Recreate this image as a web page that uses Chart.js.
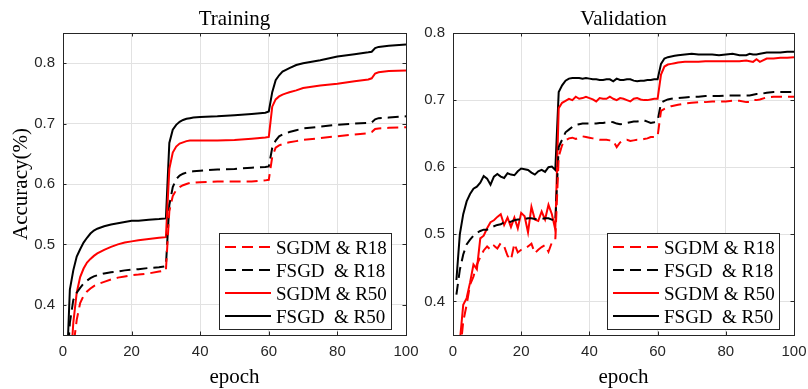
<!DOCTYPE html>
<html>
<head>
<meta charset="utf-8">
<title>Training / Validation accuracy</title>
<script src="https://cdn.jsdelivr.net/npm/chart.js"></script>
<style>
  html, body { margin: 0; padding: 0; background: #fff; }
  #wrap { position: relative; width: 808px; height: 389px; }
  .layer { position: absolute; left: 0; top: 0; width: 808px; height: 389px; }
</style>
</head>
<body>
<div id="wrap">
  <div class="layer"><canvas id="trainChart"></canvas></div>
  <div class="layer"><canvas id="valChart"></canvas></div>
</div>
<script>
// legend text / series names
var seriesNames = ['SGDM & R18', 'FSGD  & R18', 'SGDM & R50', 'FSGD  & R50'];
var xTicks = [0, 20, 40, 60, 80, 100];
var yTicks = [0.4, 0.5, 0.6, 0.7, 0.8];

// training curves
var trainEpochs = [1,2,3,4,5,6,7,8,9,10,12,14,16,18,20,22,25,28,30,31,32,33,34,35,36,37,38,40,45,50,55,59,60,61,62,63,64,65,66,68,70,75,80,85,89,90,91,92,95,100];
var trainSgdmR18 = [0.20,0.26,0.33,0.375,0.403,0.415,0.422,0.427,0.431,0.434,0.438,0.442,0.445,0.447,0.449,0.450,0.452,0.455,0.457,0.555,0.580,0.590,0.595,0.598,0.600,0.602,0.602,0.603,0.604,0.604,0.604,0.606,0.607,0.645,0.660,0.664,0.666,0.668,0.669,0.671,0.673,0.676,0.679,0.682,0.684,0.686,0.691,0.692,0.693,0.694];
var trainFsgdR18 = [0.28,0.37,0.408,0.420,0.428,0.435,0.440,0.444,0.447,0.449,0.452,0.454,0.455,0.457,0.458,0.459,0.461,0.462,0.464,0.565,0.595,0.608,0.614,0.617,0.619,0.620,0.621,0.622,0.624,0.625,0.627,0.628,0.629,0.660,0.672,0.679,0.682,0.684,0.686,0.689,0.692,0.695,0.698,0.700,0.701,0.702,0.707,0.709,0.710,0.712];
var trainSgdmR50 = [0.19,0.28,0.37,0.42,0.446,0.46,0.47,0.476,0.481,0.485,0.491,0.496,0.500,0.503,0.505,0.507,0.509,0.511,0.512,0.625,0.652,0.662,0.667,0.669,0.671,0.672,0.672,0.672,0.672,0.673,0.675,0.677,0.678,0.728,0.740,0.745,0.748,0.750,0.752,0.755,0.759,0.763,0.766,0.770,0.773,0.775,0.783,0.785,0.787,0.788];
var trainFsgdR50 = [0.28,0.425,0.457,0.480,0.492,0.503,0.511,0.518,0.523,0.526,0.530,0.533,0.535,0.537,0.539,0.539,0.541,0.542,0.543,0.668,0.690,0.698,0.703,0.706,0.708,0.709,0.710,0.711,0.712,0.714,0.716,0.718,0.720,0.752,0.772,0.780,0.786,0.789,0.792,0.797,0.800,0.805,0.811,0.815,0.818,0.819,0.825,0.827,0.829,0.831];

// validation curves (right panel)
var valEpochs = [1,2,3,4,5,6,7,8,9,10,11,12,13,14,15,16,17,18,19,20,21,22,23,24,25,26,27,28,29,30,
  31,32,33,34,35,36,37,38,39,40,41,42,43,44,45,46,47,48,49,50,51,52,53,54,55,56,57,58,59,60,
  61,62,63,64,65,66,68,70,72,74,76,78,80,82,84,86,87,88,89,90,92,94,96,98,100];
var valSgdmR18 = [0.250,0.320,0.370,0.395,0.425,0.437,0.455,0.466,0.476,0.482,0.477,0.483,0.479,0.487,0.482,0.468,0.462,0.486,0.473,0.477,0.479,0.482,0.486,0.472,0.477,0.481,0.484,0.474,0.488,0.492,
  0.616,0.633,0.640,0.643,0.644,0.642,0.644,0.646,0.645,0.644,0.643,0.642,0.641,0.641,0.641,0.640,0.639,0.630,0.637,0.640,0.641,0.639,0.640,0.641,0.641,0.642,0.643,0.645,0.645,0.646,
  0.684,0.687,0.689,0.691,0.692,0.693,0.695,0.696,0.697,0.697,0.698,0.698,0.698,0.699,0.699,0.697,0.697,0.700,0.700,0.701,0.704,0.705,0.705,0.705,0.705];
var valFsgdR18 = [0.410,0.447,0.470,0.485,0.492,0.498,0.502,0.505,0.507,0.507,0.510,0.512,0.514,0.515,0.518,0.517,0.519,0.521,0.522,0.522,0.523,0.524,0.524,0.523,0.522,0.523,0.524,0.524,0.522,0.519,
  0.630,0.641,0.652,0.656,0.660,0.663,0.664,0.665,0.665,0.665,0.665,0.665,0.666,0.666,0.667,0.668,0.667,0.665,0.664,0.665,0.666,0.667,0.668,0.668,0.669,0.670,0.668,0.666,0.667,0.669,
  0.696,0.699,0.701,0.702,0.703,0.703,0.704,0.705,0.705,0.706,0.706,0.706,0.707,0.707,0.707,0.707,0.707,0.708,0.709,0.709,0.711,0.712,0.712,0.712,0.712];
var valSgdmR50 = [0.250,0.340,0.395,0.405,0.428,0.455,0.448,0.494,0.498,0.509,0.518,0.521,0.526,0.530,0.514,0.525,0.511,0.525,0.509,0.532,0.527,0.503,0.541,0.522,0.520,0.534,0.522,0.544,0.530,0.507,
  0.688,0.696,0.699,0.702,0.700,0.705,0.702,0.703,0.705,0.703,0.701,0.698,0.703,0.702,0.702,0.705,0.702,0.700,0.703,0.702,0.700,0.698,0.702,0.703,0.701,0.700,0.700,0.701,0.702,0.702,
  0.738,0.750,0.753,0.754,0.755,0.756,0.757,0.757,0.757,0.758,0.758,0.758,0.758,0.758,0.758,0.759,0.758,0.757,0.761,0.757,0.762,0.762,0.763,0.763,0.764];
var valFsgdR50 = [0.432,0.500,0.530,0.549,0.560,0.568,0.571,0.577,0.587,0.583,0.574,0.586,0.590,0.586,0.584,0.591,0.589,0.588,0.594,0.598,0.597,0.596,0.592,0.589,0.594,0.596,0.593,0.600,0.601,0.596,
  0.712,0.722,0.729,0.732,0.733,0.733,0.733,0.732,0.733,0.732,0.731,0.731,0.730,0.730,0.731,0.731,0.728,0.732,0.730,0.730,0.731,0.731,0.729,0.728,0.729,0.729,0.730,0.730,0.731,0.731,
  0.754,0.762,0.764,0.765,0.766,0.767,0.768,0.769,0.768,0.768,0.768,0.767,0.768,0.769,0.767,0.767,0.769,0.768,0.768,0.769,0.771,0.771,0.771,0.772,0.772];

var RED = '#ff0000', BLACK = '#000000', AXIS = '#262626', GRID = '#e2e2e2';
var seriesStyle = [
  { color: RED, dash: [11, 6] },
  { color: BLACK, dash: [11, 6] },
  { color: RED, dash: [] },
  { color: BLACK, dash: [] }
];

Chart.defaults.font.family = "'Liberation Sans', Arial, sans-serif";

function toPoints(xs, ys) {
  return xs.map(function (x, i) { return { x: x, y: ys[i] }; });
}

// draws the box, inward ticks, titles and the boxed legend (MATLAB look)
var framePlugin = {
  id: 'frame',
  afterDraw: function (chart) {
    var o = chart.options.plugins.frame;
    var ctx = chart.ctx, a = chart.chartArea;
    var xs = chart.scales.x, ys = chart.scales.y;
    ctx.save();
    ctx.strokeStyle = AXIS;
    ctx.lineWidth = 1;
    ctx.setLineDash([]);
    ctx.strokeRect(a.left + 0.5, a.top + 0.5, a.right - a.left, a.bottom - a.top);

    ctx.beginPath();
    xTicks.forEach(function (v) {
      var px = Math.round(xs.getPixelForValue(v)) + 0.5;
      ctx.moveTo(px, a.bottom); ctx.lineTo(px, a.bottom - 3.5);
      ctx.moveTo(px, a.top); ctx.lineTo(px, a.top + 3.5);
    });
    yTicks.forEach(function (v) {
      var py = Math.round(ys.getPixelForValue(v)) + 0.5;
      ctx.moveTo(a.left, py); ctx.lineTo(a.left + 3.5, py);
      ctx.moveTo(a.right, py); ctx.lineTo(a.right - 3.5, py);
    });
    ctx.stroke();

    ctx.fillStyle = '#000';
    ctx.font = "21px 'Liberation Serif', 'Times New Roman', serif";
    ctx.textAlign = 'center';
    ctx.textBaseline = 'alphabetic';
    var cx = (a.left + a.right) / 2;
    ctx.fillText(o.title, cx, 25);
    ctx.fillText('epoch', cx, 383);
    if (o.yLabel) {
      ctx.save();
      ctx.translate(27, (a.top + a.bottom) / 2);
      ctx.rotate(-Math.PI / 2);
      ctx.fillText(o.yLabel, 0, 0);
      ctx.restore();
    }

    // legend
    var x0 = a.right - 187, y0 = a.bottom - 102;
    ctx.fillStyle = '#fff';
    ctx.fillRect(x0, y0, 172, 96);
    ctx.strokeStyle = AXIS;
    ctx.strokeRect(x0 + 0.5, y0 + 0.5, 172, 96);
    ctx.font = "19px 'Liberation Serif', 'Times New Roman', serif";
    ctx.textAlign = 'left';
    seriesNames.forEach(function (name, i) {
      var ry = y0 + 14 + i * 23;
      ctx.strokeStyle = seriesStyle[i].color;
      ctx.lineWidth = 2;
      ctx.setLineDash(seriesStyle[i].dash);
      ctx.beginPath();
      ctx.moveTo(x0 + 6, ry);
      ctx.lineTo(x0 + 52, ry);
      ctx.stroke();
      ctx.setLineDash([]);
      ctx.fillStyle = '#000';
      ctx.fillText(name, x0 + 57, ry + 7);
    });
    ctx.restore();
  }
};

function makeChart(id, xsData, seriesData, yMax, yAxisWidth, padRight, title, yLabel) {
  var datasets = seriesData.map(function (ys, i) {
    return {
      label: seriesNames[i],
      data: toPoints(xsData, ys),
      borderColor: seriesStyle[i].color,
      borderDash: seriesStyle[i].dash,
      borderWidth: 2,
      pointRadius: 0,
      tension: 0,
      fill: false
    };
  });
  return new Chart(document.getElementById(id), {
    type: 'line',
    data: { datasets: datasets },
    plugins: [framePlugin],
    options: {
      responsive: true,
      maintainAspectRatio: false,
      devicePixelRatio: 1,
      animation: false,
      events: [],
      layout: { padding: { top: 33, right: padRight, left: 0, bottom: 0 } },
      plugins: {
        legend: { display: false },
        tooltip: { enabled: false },
        frame: { title: title, yLabel: yLabel }
      },
      scales: {
        x: {
          type: 'linear', min: 0, max: 100,
          afterBuildTicks: function (s) { s.ticks = xTicks.map(function (v) { return { value: v }; }); },
          afterFit: function (s) { s.height = 54; s.paddingLeft = 0; s.paddingRight = 0; },
          grid: { color: GRID, drawTicks: false },
          border: { display: false },
          ticks: { color: AXIS, padding: 8, maxRotation: 0, font: { size: 15 } }
        },
        y: {
          type: 'linear', min: 0.35, max: yMax,
          afterBuildTicks: function (s) { s.ticks = yTicks.map(function (v) { return { value: v }; }); },
          afterFit: function (s) { s.width = yAxisWidth; s.paddingTop = 0; s.paddingBottom = 0; },
          grid: { color: GRID, drawTicks: false },
          border: { display: false },
          ticks: {
            color: AXIS, padding: 8, font: { size: 15 },
            callback: function (v) { return v.toFixed(1); }
          }
        }
      }
    }
  });
}

makeChart('trainChart', trainEpochs, [trainSgdmR18, trainFsgdR18, trainSgdmR50, trainFsgdR50],
  0.85, 63, 402, 'Training', 'Accuracy(%)');
makeChart('valChart', valEpochs, [valSgdmR18, valFsgdR18, valSgdmR50, valFsgdR50],
  0.8, 453, 14, 'Validation', null);
</script>
</body>
</html>
